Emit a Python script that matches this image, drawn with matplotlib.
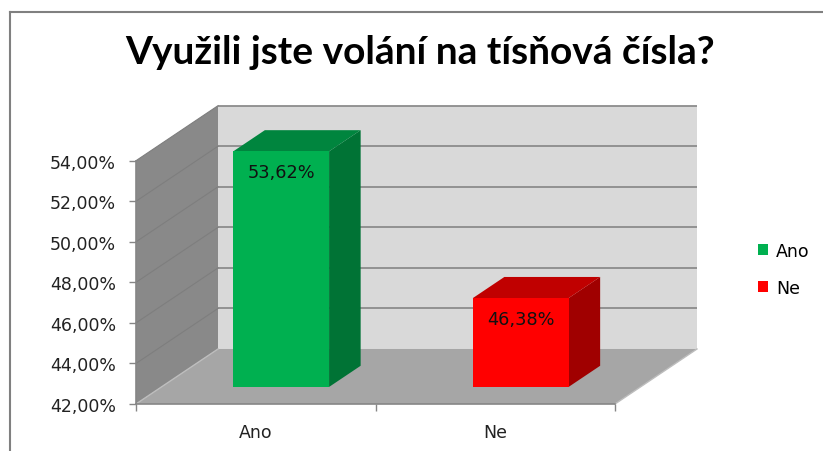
import matplotlib
matplotlib.use("Agg")
import matplotlib.pyplot as plt
from matplotlib.patches import Polygon, Patch
from matplotlib.lines import Line2D

title = "Využili jste volání na tísňová čísla?"
categories = ["Ano", "Ne"]
values = [53.62, 46.38]
value_labels = ["53,62%", "46,38%"]
y_ticks = [42, 44, 46, 48, 50, 52, 54]
y_tick_labels = ["42,00%", "44,00%", "46,00%", "48,00%", "50,00%", "52,00%", "54,00%"]
front_colors = ["#00B050", "#FF0000"]
side_colors = ["#007335", "#A00000"]
top_colors = ["#00853E", "#C00000"]

W, H = 823, 452
fig = plt.figure(figsize=(W / 100, H / 100), dpi=100)
ax = fig.add_axes([136 / W, 1 - 405 / H, (615 - 136) / W, (405 - 161.7) / H])
x0, x1 = -0.5, len(categories) - 0.5
y0, y1 = y_ticks[0], y_ticks[-1]
ax.set_xlim(x0, x1)
ax.set_ylim(y0, y1)
ax.set_facecolor("none")

# oblique depth of the chart box, in data units
DX, DY = 0.3424, 2.713

def poly(pts, fc, z, ec="none", lw=0.0):
    ax.add_patch(Polygon(pts, closed=True, fc=fc, ec=ec, lw=lw, clip_on=False, zorder=z))

# walls and floor
poly([(x0, y0), (x0, y1), (x0 + DX, y1 + DY), (x0 + DX, y0 + DY)], "#898989", 1)
poly([(x0 + DX, y0 + DY), (x0 + DX, y1 + DY), (x1 + DX, y1 + DY), (x1 + DX, y0 + DY)], "#D9D9D9", 1)
poly([(x0, y0), (x1, y0), (x1 + DX, y0 + DY), (x0 + DX, y0 + DY)], "#A6A6A6", 1.5)
ax.plot([x1, x1 + DX], [y0, y0 + DY], color="#BDBDBD", lw=1.0, clip_on=False, zorder=1.6)
ax.plot([x0, x0 + DX], [y0, y0 + DY], color="#BDBDBD", lw=1.0, clip_on=False, zorder=1.6)

for t in y_ticks[1:]:
    ax.plot([x0 + DX, x1 + DX], [t + DY, t + DY], color="#8C8C8C", lw=1.3,
            clip_on=False, zorder=2, solid_capstyle="butt")
    ax.plot([x0, x0 + DX], [t, t + DY], color="#7E7E7E", lw=0.8,
            clip_on=False, zorder=2)

# bars
f0, bd, bw = 0.31, 0.385, 0.4
for i, v in enumerate(values):
    fx = i - bw / 2 + f0 * DX
    fy = y0 + f0 * DY
    vt = v + f0 * DY
    bx, by = bd * DX, bd * DY
    poly([(fx + bw, fy), (fx + bw, vt), (fx + bw + bx, vt + by), (fx + bw + bx, fy + by)],
         side_colors[i], 3)
    poly([(fx, vt), (fx + bw, vt), (fx + bw + bx, vt + by), (fx + bx, vt + by)],
         top_colors[i], 3)
    poly([(fx, fy), (fx + bw, fy), (fx + bw, vt), (fx, vt)], front_colors[i], 3.5)
    ax.annotate(value_labels[i], xy=(i + f0 * DX, vt), xytext=(0, -15),
                textcoords="offset points", ha="center", va="center",
                fontsize=12.8, color="#111111", zorder=5, family="DejaVu Sans",
                annotation_clip=False)

# axes styling
for s in ["top", "right"]:
    ax.spines[s].set_visible(False)
for s in ["left", "bottom"]:
    ax.spines[s].set_color("#868686")
    ax.spines[s].set_linewidth(1.2)
    ax.spines[s].set_zorder(4)
ax.set_yticks(y_ticks)
ax.set_yticklabels(y_tick_labels, fontsize=12.5, color="#222222")
ax.tick_params(axis="y", direction="out", length=5, width=1.0, color="#868686", pad=9.5)
ax.set_xticks(range(len(categories)))
ax.set_xticklabels(categories, fontsize=12.5, color="#222222")
ax.set_xticks([x0 + k for k in range(len(categories) + 1)], minor=True)
ax.tick_params(axis="x", which="major", length=0, pad=13.5)
ax.tick_params(axis="x", which="minor", direction="out", length=5, width=1.0, color="#868686")

# title
fig.text(420 / W, 1 - 52 / H, title, ha="center", va="center", fontsize=28,
         fontweight="bold", family="Lato", color="black")

# legend
handles = [Patch(fc=c, ec="none") for c in front_colors]
fig.legend(handles, categories, loc="center left", bbox_to_anchor=(758 / W, 1 - 270.5 / H),
           frameon=False, fontsize=12.5, handlelength=0.6, handleheight=0.6,
           handletextpad=0.45, labelspacing=1.1, borderpad=0, borderaxespad=0)

# frame lines of the chart area
fig.add_artist(Line2D([10 / W, 1], [1 - 13 / H, 1 - 13 / H], transform=fig.transFigure,
                      color="#808080", lw=1.5))
fig.add_artist(Line2D([10 / W, 10 / W], [0, 1 - 13 / H], transform=fig.transFigure,
                      color="#808080", lw=1.5))

fig.savefig("out.png", dpi=100)
